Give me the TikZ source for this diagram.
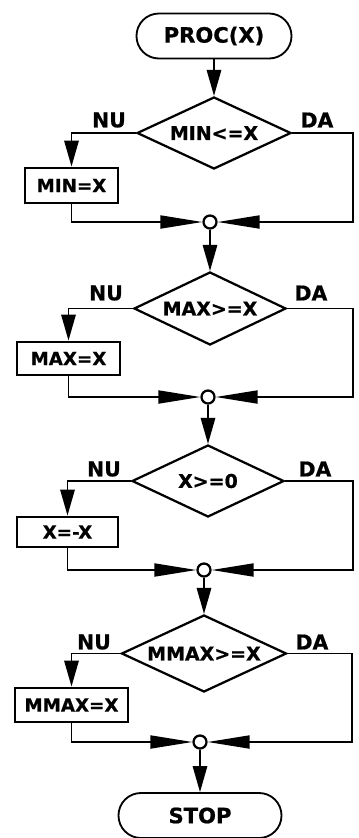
\documentclass[tikz,border=0pt]{standalone}
\usepackage{fontspec}
\setmainfont{DejaVu Sans}[BoldFeatures={FakeBold=0.8}]
\usetikzlibrary{arrows.meta,shapes.geometric}

\begin{document}
\begin{tikzpicture}[x=0.25mm, y=-0.25mm,
  terminal/.style={draw, line width=1.3pt, rounded corners=5.6mm, minimum height=11.25mm, inner sep=0pt, font=\bfseries\fontsize{15}{17}\selectfont},
  decision/.style={draw, diamond, aspect=2.1, line width=1.6pt, inner sep=0pt, font=\bfseries\fontsize{13.5}{15}\selectfont},
  action/.style={draw, line width=2pt, inner sep=0pt, font=\bfseries\fontsize{13}{15}\selectfont},
  joint/.style={draw, circle, line width=1.6pt, fill=white, minimum size=3.25mm, inner sep=0pt},
  answer/.style={font=\bfseries\fontsize{14.5}{16}\selectfont},
  vflow/.style={line width=1.3pt, -{Triangle[length=6.5mm, width=3.6mm]}},
  hflow/.style={line width=1.3pt, -{Triangle[length=10.5mm, width=3.25mm]}}]
\useasboundingbox (0,0) rectangle (359,838);

\node[terminal, minimum width=38.75mm] (proc) at (214,36) {PROC(X)};

\node[decision, minimum width=38.5mm, minimum height=18mm] (d1) at (214,133) {MIN<=X}; % MIN
\node[answer] (nu1) at (109,120) {NU};
\node[answer] (da1) at (317,120) {DA};
\node[action, minimum width=23.25mm, minimum height=8.75mm] (b1) at (71.5,185.5) {MIN=X};
\node[joint] (j1) at (210,222) {};
\coordinate (r1) at (353,222);

\node[decision, minimum width=38mm, minimum height=18.25mm] (d2) at (210,308.5) {MAX>=X}; % MAX
\node[answer] (nu2) at (106,293) {NU};
\node[answer] (da2) at (311,293) {DA};
\node[action, minimum width=25.75mm, minimum height=8.25mm] (b2) at (68.5,358.5) {MAX=X};
\node[joint] (j2) at (208,397) {};
\coordinate (r2) at (353,397);

\node[decision, minimum width=38mm, minimum height=18mm] (d3) at (208,481) {X>=0}; % modul
\node[answer] (nu3) at (104,469) {NU};
\node[answer] (da3) at (315,469) {DA};
\node[action, minimum width=25.25mm, minimum height=7.5mm] (b3) at (67.5,532) {X=-X};
\node[joint] (j3) at (204,570) {};
\coordinate (r3) at (353,570);

\node[decision, minimum width=41.25mm, minimum height=19.25mm] (d4) at (204,653.5) {MMAX>=X}; % MMAX
\node[answer] (nu4) at (94,642) {NU};
\node[answer] (da4) at (312,642) {DA};
\node[action, minimum width=28.25mm, minimum height=8.5mm] (b4) at (71.5,705) {MMAX=X};
\node[joint] (j4) at (200,742) {};
\coordinate (r4) at (352,742);

\node[terminal, minimum width=40.75mm] (stop) at (200,815.5) {STOP};

\draw[vflow] (proc) -- (d1);
\draw[vflow] (d1.west) -| (b1.north);
\draw[hflow] (b1.south) |- (j1.west);
\draw[hflow] (d1.east) -| (r1) -- (j1.east);
\draw[vflow] (j1) -- (d2);
\draw[vflow] (d2.west) -| (b2.north);
\draw[hflow] (b2.south) |- (j2.west);
\draw[hflow] (d2.east) -| (r2) -- (j2.east);
\draw[vflow] (j2) -- (d3);
\draw[vflow] (d3.west) -| (b3.north);
\draw[hflow] (b3.south) |- (j3.west);
\draw[hflow] (d3.east) -| (r3) -- (j3.east);
\draw[vflow] (j3) -- (d4);
\draw[vflow] (d4.west) -| (b4.north);
\draw[hflow] (b4.south) |- (j4.west);
\draw[hflow] (d4.east) -| (r4) -- (j4.east);
\draw[vflow] (j4) -- (stop);
\end{tikzpicture}
\end{document}
